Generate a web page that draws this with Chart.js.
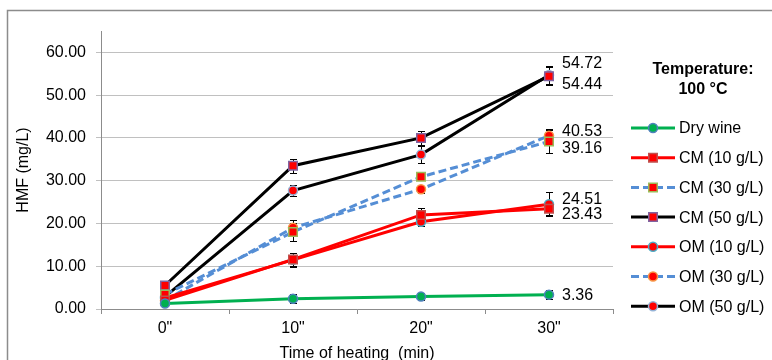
<!DOCTYPE html>
<html>
<head>
<meta charset="utf-8">
<script src="https://cdn.jsdelivr.net/npm/chart.js@4.4.0/dist/chart.umd.min.js"></script>
<style>
  html, body { margin: 0; padding: 0; background: #fff; overflow: hidden; }
  #wrap { width: 772px; height: 372px; }
</style>
</head>
<body>
<div id="wrap"><canvas id="chart" width="772" height="372"></canvas></div>
<script>
// data
const categories = ['0"', '10"', '20"', '30"'];
const dryWine = [1.3, 2.4, 2.9, 3.36];
const cm10 = [2.0, 11.6, 22.0, 23.43];
const cm30 = [3.4, 18.0, 30.9, 39.16];
const cm50 = [5.5, 33.5, 40.0, 54.44];
const om10 = [2.6, 11.5, 20.4, 24.51];
const om30 = [2.0, 19.0, 28.0, 40.53];
const om50 = [2.9, 27.7, 36.1, 54.72];

// error bar half-widths
const errDry = [0.3, 1.0, 0.8, 1.0];
const errCm10 = [0.4, 1.5, 1.6, 1.4];
const errCm30 = [0.5, 2.0, 0.8, 2.6];
const errCm50 = [0.6, 1.6, 1.6, 2.1];
const errOm10 = [0.4, 1.7, 1.0, 2.8];
const errOm30 = [0.4, 1.8, 0.8, 1.5];
const errOm50 = [0.5, 1.3, 2.0, 2.0];

const yTicks = [0, 10, 20, 30, 40, 50, 60];

const GREEN = '#00b050', RED = '#ff0000', BLUE = '#558ed5', BLACK = '#000000';
const FONT = "'Liberation Sans', Arial, sans-serif";

function series(label, data, err, color, dash, shape, fill, border, labelDy) {
  return {
    label, data, err, labelDy,
    borderColor: color,
    backgroundColor: fill,
    borderWidth: 3,
    borderDash: dash,
    pointStyle: shape,
    pointRadius: shape === 'rect' ? 6 : 4.5,
    pointBorderWidth: 1.5,
    pointBorderColor: border,
    pointBackgroundColor: fill,
    tension: 0
  };
}

const datasets = [
  series('Dry wine', dryWine, errDry, GREEN, [], 'circle', GREEN, '#4f81bd', 1),
  series('CM (10 g/L)', cm10, errCm10, RED, [], 'rect', RED, '#c0504d', 6),
  series('CM (30 g/L)', cm30, errCm30, BLUE, [8, 4], 'rect', RED, '#9bbb59', 7),
  series('CM (50 g/L)', cm50, errCm50, BLACK, [], 'rect', RED, '#8064a2', 8),
  series('OM (10 g/L)', om10, errOm10, RED, [], 'circle', RED, '#4bacc6', -5),
  series('OM (30 g/L)', om30, errOm30, BLUE, [8, 4], 'circle', RED, '#f79646', -4),
  series('OM (50 g/L)', om50, errOm50, BLACK, [], 'circle', RED, '#95b3d7', -11)
];

const extras = {
  id: 'extras',
  beforeDraw(chart) {
    const ctx = chart.ctx;
    ctx.save();
    ctx.strokeStyle = '#8c8c8c';
    ctx.lineWidth = 1.5;
    ctx.beginPath();
    ctx.moveTo(7.5, 372);
    ctx.lineTo(7.5, 10.5);
    ctx.lineTo(772, 10.5);
    ctx.stroke();
    ctx.restore();
  },
  beforeDatasetsDraw(chart) {
    const ctx = chart.ctx;
    const y = chart.scales.y;
    ctx.save();
    ctx.strokeStyle = '#000';
    ctx.lineWidth = 1;
    chart.data.datasets.forEach((ds, i) => {
      const meta = chart.getDatasetMeta(i);
      meta.data.forEach((pt, j) => {
        const v = ds.data[j], e = ds.err[j];
        const x = Math.round(pt.x) + 0.5;
        const y1 = Math.round(y.getPixelForValue(v + e)) + 0.5;
        const y2 = Math.round(y.getPixelForValue(v - e)) + 0.5;
        ctx.beginPath();
        ctx.moveTo(x, y1); ctx.lineTo(x, y2);
        ctx.moveTo(x - 3.5, y1); ctx.lineTo(x + 3.5, y1);
        ctx.moveTo(x - 3.5, y2); ctx.lineTo(x + 3.5, y2);
        ctx.stroke();
      });
    });
    ctx.restore();
  },
  afterDatasetsDraw(chart) {
    const ctx = chart.ctx;
    ctx.save();
    ctx.font = '16px ' + FONT;
    ctx.fillStyle = '#000';
    ctx.textAlign = 'left';
    ctx.textBaseline = 'middle';
    chart.data.datasets.forEach((ds, i) => {
      const meta = chart.getDatasetMeta(i);
      const last = meta.data.length - 1;
      const pt = meta.data[last];
      ctx.fillText(ds.data[last].toFixed(2), pt.x + 13, pt.y + ds.labelDy);
    });
    ctx.restore();
  },
  afterDraw(chart) {
    const ctx = chart.ctx;
    ctx.save();
    ctx.fillStyle = '#000';
    ctx.textAlign = 'center';
    ctx.textBaseline = 'middle';
    ctx.font = 'bold 16px ' + FONT;
    ctx.fillText('Temperature:', 703, 70);
    ctx.fillText('100 \u00b0C', 703, 90);
    ctx.font = '16px ' + FONT;
    ctx.textAlign = 'left';
    chart.data.datasets.forEach((ds, i) => {
      const yy = 128 + i * 29.7;
      ctx.save();
      ctx.strokeStyle = ds.borderColor;
      ctx.lineWidth = 3;
      ctx.setLineDash(ds.borderDash);
      ctx.beginPath();
      ctx.moveTo(631, yy); ctx.lineTo(675, yy);
      ctx.stroke();
      ctx.restore();
      ctx.save();
      ctx.fillStyle = ds.pointBackgroundColor;
      ctx.strokeStyle = ds.pointBorderColor;
      ctx.lineWidth = 1.5;
      Chart.helpers.drawPoint(ctx, { pointStyle: ds.pointStyle, radius: ds.pointRadius, borderWidth: 1.5, rotation: 0 }, 653, yy);
      ctx.restore();
      ctx.fillText(ds.label, 679, yy + 1);
    });
    ctx.restore();
  }
};

new Chart(document.getElementById('chart'), {
  type: 'line',
  data: { labels: categories, datasets },
  plugins: [extras],
  options: {
    responsive: false,
    animation: false,
    layout: { padding: { top: 31, right: 159, left: 0, bottom: 0 } },
    plugins: { legend: { display: false }, tooltip: { enabled: false } },
    scales: {
      x: {
        offset: true,
        afterFit(s) { s.height = 63; },
        grid: { display: true, drawOnChartArea: false, offset: true, tickLength: 5, color: '#8c8c8c', tickColor: '#8c8c8c' },
        border: { color: '#8c8c8c', width: 1 },
        ticks: { color: '#000', padding: 5, font: { family: FONT, size: 16 } },
        title: { display: true, text: 'Time of heating  (min)', color: '#000', padding: 9, font: { family: FONT, size: 16 } }
      },
      y: {
        min: 0,
        max: 65,
        afterFit(s) { s.width = 101; },
        afterBuildTicks(s) { s.ticks = yTicks.map(v => ({ value: v })); },
        grid: { color: '#c0c0c0', tickLength: 5, tickColor: '#c0c0c0' },
        border: { color: '#8c8c8c', width: 1 },
        ticks: { color: '#000', padding: 10, font: { family: FONT, size: 16 }, callback: v => Number(v).toFixed(2) },
        title: { display: true, text: 'HMF (mg/L)', color: '#000', padding: 14, font: { family: FONT, size: 16 } }
      }
    }
  }
});
</script>
</body>
</html>
